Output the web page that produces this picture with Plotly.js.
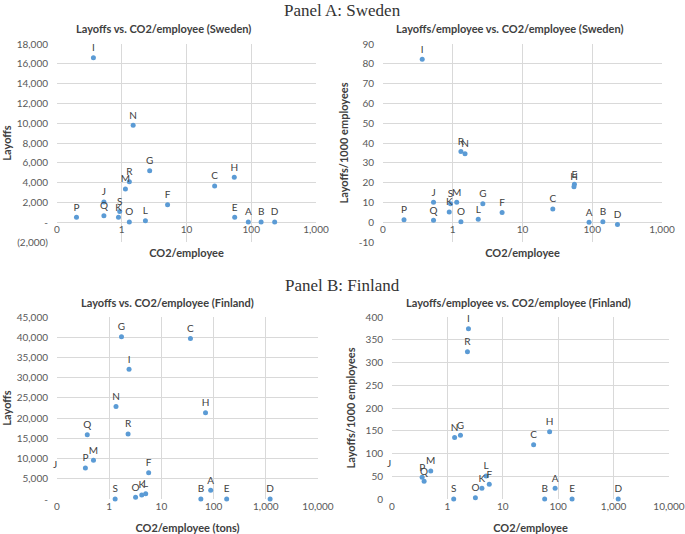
<!DOCTYPE html>
<html>
<head>
<meta charset="utf-8">
<script src="https://cdn.plot.ly/plotly-3.0.1.min.js"></script>
<style>
  body { margin: 0; background: #fff; }
  #chart { width: 685px; height: 534px; }
</style>
</head>
<body>
<div id="chart"></div>
<script>
// Sector letters and values
const sweLabels = ['A','B','C','D','E','F','G','H','I','J','K','L','M','N','O','P','Q','R','S'];
const sweCo2 = [90, 142, 27.2, 230, 55.5, 5.1, 2.7, 54.7, 0.365, 0.53, 0.89, 2.32, 1.14, 1.5, 1.31, 0.2, 0.53, 1.31, 0.93];
const sweLayoffs = [20, 20, 3650, 10, 500, 1760, 5200, 4530, 16600, 2030, 500, 140, 3350, 9800, 30, 510, 640, 4090, 1080];
const sweRate = [0, 0.2, 6.7, -1.2, 19.2, 4.9, 9.3, 17.9, 82.3, 10.1, 5.2, 1.5, 10.1, 34.6, 0.2, 1.2, 1.0, 35.7, 9.3];

const finLabels = ['A','B','C','D','E','F','G','H','I','J','K','L','M','N','O','P','Q','R','S'];
const finCo2 = [88, 57, 36, 1210, 178, 5.7, 1.72, 70, 2.4, 0.09, 4.2, 5.0, 0.5, 1.35, 3.2, 0.35, 0.38, 2.3, 1.3];
const finLayoffs = [2140, 0, 39700, 0, 0, 6500, 40100, 21300, 32100, 5900, 990, 1320, 9560, 22900, 410, 7660, 15900, 16070, 0];
const finRate = [23.5, 0, 119, 0, 0, 32.3, 140, 148, 374, 56, 23.5, 50.6, 61.7, 135, 2.9, 47.7, 38.9, 323.7, 0];

// Tick labels
const logTicksA = [0.1, 1, 10, 100, 1000];
const logTextA = ['0', '1', '10', '100', '1,000'];
const logTicksB = [0.1, 1, 10, 100, 1000, 10000];
const logTextB = ['0', '1', '10', '100', '1,000', '10,000'];
const sweLayTicks = [-2000, 0, 2000, 4000, 6000, 8000, 10000, 12000, 14000, 16000, 18000];
const sweLayText = ['(2,000)', '-', '2,000', '4,000', '6,000', '8,000', '10,000', '12,000', '14,000', '16,000', '18,000'];
const sweRateTicks = [-10, 0, 10, 20, 30, 40, 50, 60, 70, 80, 90];
const finLayTicks = [0, 5000, 10000, 15000, 20000, 25000, 30000, 35000, 40000, 45000];
const finLayText = ['-', '5,000', '10,000', '15,000', '20,000', '25,000', '30,000', '35,000', '40,000', '45,000'];
const finRateTicks = [0, 50, 100, 150, 200, 250, 300, 350, 400];

const W = 685, H = 534;
const BLUE = '#5b9bd5';
const GRID = '#d9d9d9';
const TICK = '#595959';
const INK = '#404040';
const FONT = 'Lato, "Open Sans", sans-serif';
const LABEL_FONT = { family: FONT, size: 10, color: INK };

// px box -> paper domain
const dx = (l, r) => [l / W, r / W];
const dy = (t, b) => [1 - b / H, 1 - t / H];

const offLabels = [];

function pointTraces(labels, xs, ys, xa, ya, xticks) {
    const xmin = xticks[0], xmax = xticks[xticks.length - 1];
    const inX = [], inY = [], inT = [];
    labels.forEach((lab, i) => {
        if (xs[i] >= xmin) {
            inX.push(xs[i]); inY.push(ys[i]); inT.push(lab);
        } else {
            // Excel hides the point below the log minimum but keeps its label
            const r0 = Math.log10(xmin), r1 = Math.log10(xmax);
            offLabels.push({
                text: lab, showarrow: false,
                xref: xa + ' domain', x: (Math.log10(xs[i]) - r0) / (r1 - r0),
                yref: ya, y: ys[i], xanchor: 'center', yanchor: 'bottom', yshift: 3,
                font: LABEL_FONT,
            });
        }
    });
    return {
        type: 'scatter', mode: 'markers+text', x: inX, y: inY, text: inT,
        textposition: 'top center', textfont: LABEL_FONT,
        marker: { color: BLUE, size: 5 },
        xaxis: xa, yaxis: ya, cliponaxis: false, hoverinfo: 'skip',
    };
}

function xAxis(domain, ticks, text, title, standoff, extra) {
    return Object.assign({
        type: 'log', domain: domain,
        range: [Math.log10(ticks[0]), Math.log10(ticks[ticks.length - 1])],
        tickvals: ticks, ticktext: text,
        tickfont: { family: FONT, size: 10, color: TICK },
        gridcolor: GRID, gridwidth: 1, zeroline: false, showline: false,
        ticks: '', fixedrange: true,
        title: { text: title, standoff: standoff, font: { family: FONT, size: 11, color: INK, weight: 700 } },
    }, extra || {});
}

function yAxis(domain, anchor, ticks, text, title, standoff) {
    return {
        domain: domain, anchor: anchor,
        range: [ticks[0], ticks[ticks.length - 1]],
        tickvals: ticks, ticktext: text || ticks.map(String),
        tickfont: { family: FONT, size: 10, color: TICK },
        ticks: 'outside', ticklen: 6, tickcolor: 'rgba(0,0,0,0)',
        gridcolor: GRID, gridwidth: 1, zeroline: false, showline: false,
        fixedrange: true,
        title: { text: title, standoff: standoff, font: { family: FONT, size: 11, color: INK, weight: 700 } },
    };
}

// where value 0 sits inside a y domain (Excel crosses the x axis at 0)
function zeroPos(dom, ticks) {
    const lo = ticks[0], hi = ticks[ticks.length - 1];
    return dom[0] + (0 - lo) / (hi - lo) * (dom[1] - dom[0]);
}

const yTop = dy(44, 242);
const yBot = dy(317, 499);

const data = [
    pointTraces(sweLabels, sweCo2, sweLayoffs, 'x', 'y', logTicksA),
    pointTraces(sweLabels, sweCo2, sweRate, 'x2', 'y2', logTicksA),
    pointTraces(finLabels, finCo2, finLayoffs, 'x3', 'y3', logTicksB),
    pointTraces(finLabels, finCo2, finRate, 'x4', 'y4', logTicksB),
];

function chartTitle(text, x, y) {
    return {
        text: text, x: x / W, y: 1 - y / H, xref: 'paper', yref: 'paper',
        xanchor: 'center', yanchor: 'middle', showarrow: false,
        font: { family: FONT, size: 11, color: INK, weight: 700 },
    };
}
function panelTitle(text, x, y) {
    return {
        text: text, x: x / W, y: 1 - y / H, xref: 'paper', yref: 'paper',
        xanchor: 'center', yanchor: 'middle', showarrow: false,
        font: { family: '"Liberation Serif", "DejaVu Serif", serif', size: 17, color: '#333333' },
    };
}

const layout = {
    width: W, height: H,
    margin: { t: 0, r: 0, b: 0, l: 0 },
    paper_bgcolor: '#ffffff', plot_bgcolor: '#ffffff',
    showlegend: false,
    xaxis: xAxis(dx(57, 316), logTicksA, logTextA, 'CO2/employee', 15,
        { anchor: 'free', position: zeroPos(yTop, sweLayTicks) }),
    yaxis: yAxis(yTop, 'x', sweLayTicks, sweLayText, 'Layoffs', 4),
    xaxis2: xAxis(dx(383, 662), logTicksA, logTextA, 'CO2/employee', 15,
        { anchor: 'free', position: zeroPos(yTop, sweRateTicks) }),
    yaxis2: yAxis(yTop, 'x2', sweRateTicks, null, 'Layoffs/1000 employees', 7),
    xaxis3: xAxis(dx(57, 318), logTicksB, logTextB, 'CO2/employee (tons)', 14, { anchor: 'y3' }),
    yaxis3: yAxis(yBot, 'x3', finLayTicks, finLayText, 'Layoffs', 4),
    xaxis4: xAxis(dx(392, 669), logTicksB, logTextB, 'CO2/employee', 14, { anchor: 'y4' }),
    yaxis4: yAxis(yBot, 'x4', finRateTicks, null, 'Layoffs/1000 employees', 7),
    annotations: [
        panelTitle('Panel A: Sweden', 342, 10),
        panelTitle('Panel B: Finland', 342, 285),
        chartTitle('Layoffs vs. CO2/employee (Sweden)', 163, 28),
        chartTitle('Layoffs/employee vs. CO2/employee (Sweden)', 510, 28),
        chartTitle('Layoffs vs. CO2/employee (Finland)', 167, 302),
        chartTitle('Layoffs/employee vs. CO2/employee (Finland)', 518, 302),
        ...offLabels,
    ],
};

Plotly.newPlot('chart', data, layout, { displayModeBar: false, staticPlot: true });
</script>
</body>
</html>
